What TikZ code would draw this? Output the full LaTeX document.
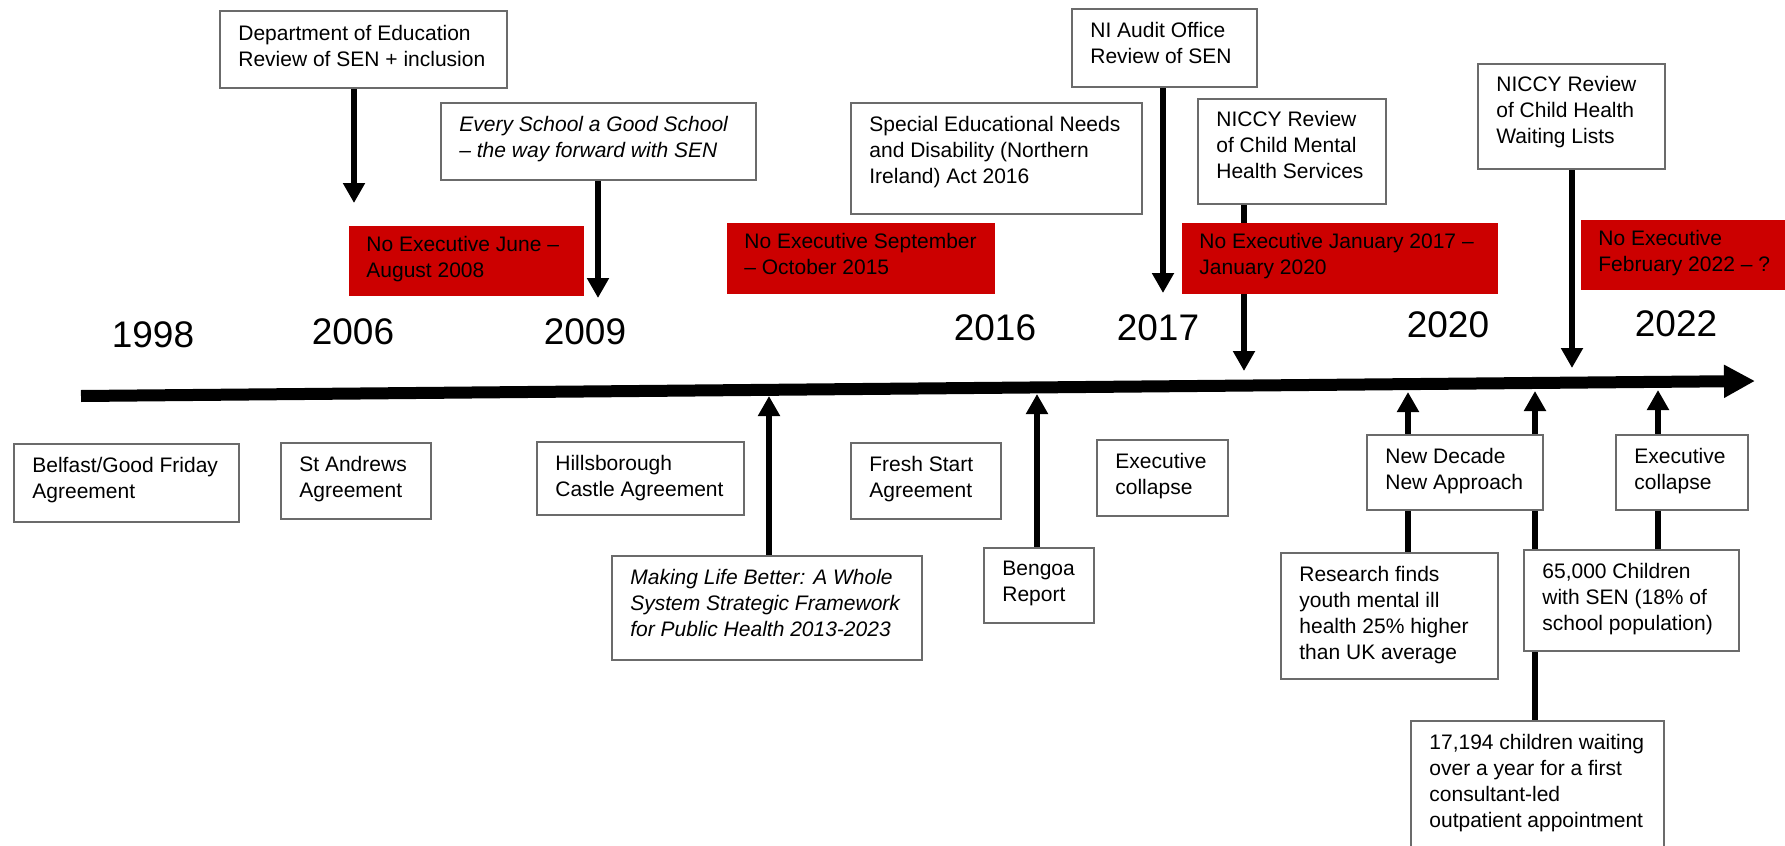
\documentclass[tikz,border=0pt]{standalone}
\usepackage{fontspec}
\setmainfont{Liberation Sans}
\usetikzlibrary{arrows.meta,backgrounds}
\definecolor{exred}{HTML}{CC0000}
\definecolor{bordergray}{gray}{0.42}
\newcommand{\mkbox}[6]{%
 \node[#1, minimum width={(#5-#3)*0.5pt}, minimum height={(#6-#4)*0.5pt}] (#2) at ({(#3+#5)/2},{(#4+#6)/2}) {};}
\newcommand{\mktext}[4]{%
 \node[txt, anchor=north west] (#1-t) at ([shift={(#2,#3)}]#1.north west) {#4};}
\begin{document}
\begin{tikzpicture}[x=0.5pt,y=-0.5pt,
  wbox/.style={draw=bordergray, line width=0.9pt, fill=white, inner sep=0pt, outer sep=0pt},
  rbox/.style={fill=exred, inner sep=0pt, outer sep=0pt},
  txt/.style={inner sep=0pt, align=left, font=\fontsize{10.5pt}{13pt}\selectfont},
  yr/.style={inner sep=0pt, font=\fontsize{18.5pt}{22pt}\selectfont},
  arr/.style={line width=3.1pt, -{Triangle[width=10.5pt,length=10pt]}},
  tline/.style={line width=6pt, -{Triangle[width=15.5pt,length=15.5pt]}}]
\useasboundingbox (0,0) rectangle (1785,846);
\clip (0,0) rectangle (1785,846);

% timeline
\coordinate (tl0) at (81,396);
\coordinate (tl1) at (1755,381);

% years
\node[yr] (y1998) at (153,335) {1998};
\node[yr] (y2006) at (353,332) {2006};
\node[yr] (y2009) at (585,332) {2009};
\node[yr] (y2016) at (995,328) {2016};
\node[yr] (y2017) at (1158,328) {2017};
\node[yr] (y2020) at (1448,325) {2020};
\node[yr] (y2022) at (1676,324) {2022};

% upper boxes
\mkbox{wbox}{doe}{220}{11}{507}{88}
\mktext{doe}{18}{14}{Department of Education\\Review of SEN + inclusion}
\mkbox{wbox}{esgs}{441}{103}{756}{180}
\mktext{esgs}{18}{13}{\itshape Every School a Good School\\\itshape – the way forward with SEN}
\mkbox{wbox}{send}{851}{103}{1142}{214}
\mktext{send}{18}{13}{Special Educational Needs\\and Disability (Northern\\Ireland) Act 2016}
\mkbox{wbox}{nia}{1072}{9}{1257}{87}
\mktext{nia}{18}{13}{NI Audit Office\\Review of SEN}
\mkbox{wbox}{cmh}{1198}{99}{1386}{204}
\mktext{cmh}{18}{12}{NICCY Review\\of Child Mental\\Health Services}
\mkbox{wbox}{wait}{1478}{64}{1665}{169}
\mktext{wait}{18}{12}{NICCY Review\\of Child Health\\Waiting Lists}

% red boxes
\mkbox{rbox}{red1}{349}{226}{584}{296}
\mktext{red1}{17}{10}{No Executive June –\\August 2008}
\mkbox{rbox}{red2}{727}{223}{995}{294}
\mktext{red2}{17}{10}{No Executive September\\– October 2015}
\mkbox{rbox}{red3}{1182}{223}{1498}{294}
\mktext{red3}{17}{10}{No Executive January 2017 –\\January 2020}
\mkbox{rbox}{red4}{1581}{220}{1800}{290}
\mktext{red4}{17}{10}{No Executive\\February 2022 – ?}

% lower boxes
\mkbox{wbox}{gfa}{14}{444}{239}{522}
\mktext{gfa}{18}{13}{Belfast/Good Friday\\Agreement}
\mkbox{wbox}{sta}{281}{443}{431}{519}
\mktext{sta}{18}{13}{St Andrews\\Agreement}
\mkbox{wbox}{hca}{537}{442}{744}{515}
\mktext{hca}{18}{13}{Hillsborough\\Castle Agreement}
\mkbox{wbox}{mlb}{612}{556}{922}{660}
\mktext{mlb}{18}{13}{\itshape Making Life Better: A Whole\\\itshape System Strategic Framework\\\itshape for Public Health 2013-2023}
\mkbox{wbox}{fsa}{851}{443}{1001}{519}
\mktext{fsa}{18}{13}{Fresh Start\\Agreement}
\mkbox{wbox}{ben}{984}{548}{1094}{623}
\mktext{ben}{18}{13}{Bengoa\\Report}
\mkbox{wbox}{ec1}{1097}{440}{1228}{516}
\mktext{ec1}{18}{13}{Executive\\collapse}
\mkbox{wbox}{ndna}{1367}{435}{1543}{510}
\mktext{ndna}{18}{13}{New Decade\\New Approach}
\mkbox{wbox}{ec2}{1616}{435}{1748}{510}
\mktext{ec2}{18}{13}{Executive\\collapse}
\mkbox{wbox}{res}{1281}{553}{1498}{679}
\mktext{res}{18}{13}{Research finds\\youth mental ill\\health 25\% higher\\than UK average}
\mkbox{wbox}{sen}{1524}{550}{1739}{651}
\mktext{sen}{18}{13}{65,000 Children\\with SEN (18\% of\\school population)}
\mkbox{wbox}{wl}{1411}{721}{1664}{880}
\mktext{wl}{18}{13}{17,194 children waiting\\over a year for a first\\consultant-led\\outpatient appointment}

% arrow tips
\coordinate (tdoe) at (354,203);
\coordinate (tesgs) at (598,298);
\coordinate (tnia) at (1163,293);
\coordinate (tcmh) at (1244,371);
\coordinate (twait) at (1572,368);
\coordinate (tmlb) at (769,396);
\coordinate (tben) at (1037,394);
\coordinate (tres) at (1408,392);
\coordinate (twl) at (1535,391);
\coordinate (tsen) at (1658,390);

\begin{pgfonlayer}{background}
\draw[tline] (tl0) -- (tl1);
\draw[arr] (doe.south -| tdoe) -- (tdoe);
\draw[arr] (esgs.south -| tesgs) -- (tesgs);
\draw[arr] (nia.south -| tnia) -- (tnia);
\draw[arr] (cmh.south -| tcmh) -- (tcmh);
\draw[arr] (wait.south -| twait) -- (twait);
\draw[arr] (mlb.north -| tmlb) -- (tmlb);
\draw[arr] (ben.north -| tben) -- (tben);
\draw[arr] (res.north -| tres) -- (tres);
\draw[arr] (wl.north -| twl) -- (twl);
\draw[arr] (sen.north -| tsen) -- (tsen);
\end{pgfonlayer}
\end{tikzpicture}
\end{document}
